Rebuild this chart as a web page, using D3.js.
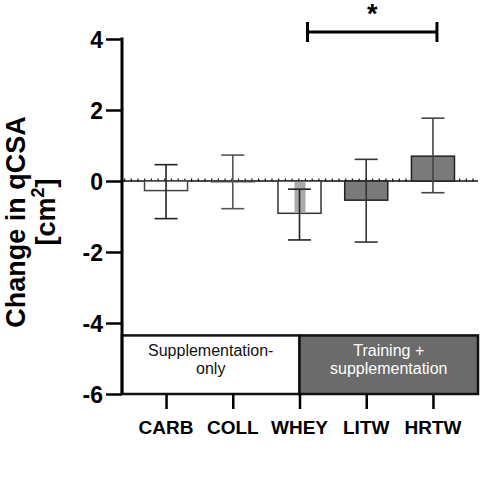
<!DOCTYPE html>
<html><head><meta charset="utf-8">
<script src="https://cdn.jsdelivr.net/npm/d3@7"></script>
<style>body{margin:0;background:#fff}svg{display:block}text{font-family:"Liberation Sans",Arial,sans-serif}</style>
</head><body><svg id="c" width="481" height="486"></svg>
<script>
const categories = ["CARB","COLL","WHEY","LITW","HRTW"];
const means = [-0.27, -0.02, -0.91, -0.54, 0.70];
const lower = [-1.06, -0.78, -1.66, -1.72, -0.33];
const upper = [0.46, 0.73, -0.23, 0.61, 1.77];
const groups = ["Supplementation-", "Training +"];
const groupFill = ["#ffffff", "#6b6b6b"];
const yTicks = [4, 2, 0, -2, -4, -6];

const svg = d3.select("#c");
const y = d3.scaleLinear().domain([-6, 4]).range([394, 39]);
const x = d3.scalePoint().domain(categories).range([122, 477]).padding(0.66);
const step = x.step();
const bw = step * 0.645;
const barFill = ["#ffffff","#ffffff","#ffffff","#7a7a7a","#7a7a7a"];
const barStroke = ["#444","#444","#333","#222","#222"];
const errColor = ["#222","#555","#222","#333","#444"];

// zero line with dotted tick pattern
svg.append("line").attr("x1",122).attr("x2",478).attr("y1",y(0)).attr("y2",y(0)).attr("stroke","#111").attr("stroke-width",1.5);
svg.append("line").attr("x1",124).attr("x2",478).attr("y1",y(0)-1).attr("y2",y(0)-1).attr("stroke","#111").attr("stroke-width",3).attr("stroke-dasharray","1.2,5.5");

// bars
categories.forEach((c,i)=>{
  const v = means[i];
  svg.append("rect").attr("x", x(c)-bw/2).attr("width", bw)
    .attr("y", y(Math.max(0,v))).attr("height", Math.abs(y(v)-y(0)))
    .attr("fill", barFill[i]).attr("stroke", barStroke[i]).attr("stroke-width",1.5);
});
// grey strip inside WHEY
svg.append("rect").attr("x", x("WHEY")-5).attr("width",11).attr("y", y(0)+1).attr("height", y(means[2])-y(0)-2).attr("fill","#aaaaaa");

// error bars
categories.forEach((c,i)=>{
  const g = svg.append("g").attr("stroke", errColor[i]).attr("stroke-width",1.6);
  g.append("line").attr("x1",x(c)).attr("x2",x(c)).attr("y1",y(upper[i])).attr("y2",y(lower[i]));
  [upper[i], lower[i]].forEach(v=>{
    g.append("line").attr("x1",x(c)-11.5).attr("x2",x(c)+11.5).attr("y1",y(v)).attr("y2",y(v));
  });
});

// group box
const bTop = y(-4.35), bBot = y(-6);
const bounds = [[122, x("WHEY")],[x("WHEY"), 478]];
bounds.forEach((b,i)=>{
  svg.append("rect").attr("x",b[0]).attr("y",bTop).attr("width",b[1]-b[0]).attr("height",bBot-bTop)
    .attr("fill",groupFill[i]).attr("stroke","#111").attr("stroke-width",2.5);
});
const groupLines = [[groups[0],"only"],[groups[1],"supplementation"]];
groupLines.forEach((ls,i)=>{
  const cx = (bounds[i][0]+bounds[i][1])/2;
  ls.forEach((t,j)=>{
    svg.append("text").attr("x",cx).attr("y",bTop+21+j*18).attr("text-anchor","middle")
      .attr("font-size",16).attr("fill", i===0?"#111":"#fff").text(t);
  });
});

// y axis
const ya = svg.append("g").attr("transform","translate(122,0)")
  .call(d3.axisLeft(y).tickValues(yTicks).tickSize(16).tickPadding(3).tickFormat(d3.format("d")));
ya.select(".domain").attr("stroke","#000").attr("stroke-width",3).attr("d",`M0,${y(4)-1.5}V${y(-6)}`);
ya.selectAll(".tick line").attr("stroke","#000").attr("stroke-width",2.5);
ya.selectAll(".tick text").attr("font-size",23).attr("font-weight","bold").attr("fill","#000").attr("dy","0.36em").text(d=>d<0?"-"+Math.abs(d):d);

// x axis
const xa = svg.append("g").attr("transform",`translate(0,${y(-6)})`)
  .call(d3.axisBottom(x).tickSize(15).tickFormat(""));
xa.select(".domain").remove();
xa.selectAll(".tick line").attr("stroke","#000").attr("stroke-width",2.5);
svg.append("g").selectAll("text").data(categories).join("text")
  .attr("x", d=>x(d)).attr("y", 434)
  .attr("text-anchor","middle").attr("font-size",19).attr("font-weight","bold").attr("fill","#000").text(d=>d);

// y axis title
const yt = svg.append("text").attr("transform",`translate(25,222) rotate(-90)`).attr("text-anchor","middle")
  .attr("font-size",27).attr("font-weight","bold").attr("fill","#000");
yt.append("tspan").attr("x",0).attr("dy",0).text("Change in qCSA");
const line2 = svg.append("text").attr("transform",`translate(55,212) rotate(-90)`).attr("text-anchor","middle")
  .attr("font-size",27).attr("font-weight","bold").attr("fill","#000");
line2.append("tspan").text("[cm");
line2.append("tspan").attr("dy",-11).attr("font-size",18).text("2");
line2.append("tspan").attr("dy",11).text("]");

// significance bracket
const bx1 = x("WHEY")+8, bx2 = x("HRTW")+4, by = 32;
const sg = svg.append("g").attr("stroke","#000").attr("stroke-width",3);
sg.append("line").attr("x1",bx1).attr("x2",bx2).attr("y1",by).attr("y2",by);
[bx1,bx2].forEach(bx=>sg.append("line").attr("x1",bx).attr("x2",bx).attr("y1",by-10).attr("y2",by+10));
svg.append("text").attr("x",(bx1+bx2)/2).attr("y",23).attr("text-anchor","middle").attr("font-size",27).attr("font-weight","bold").text("*");
</script></body></html>
